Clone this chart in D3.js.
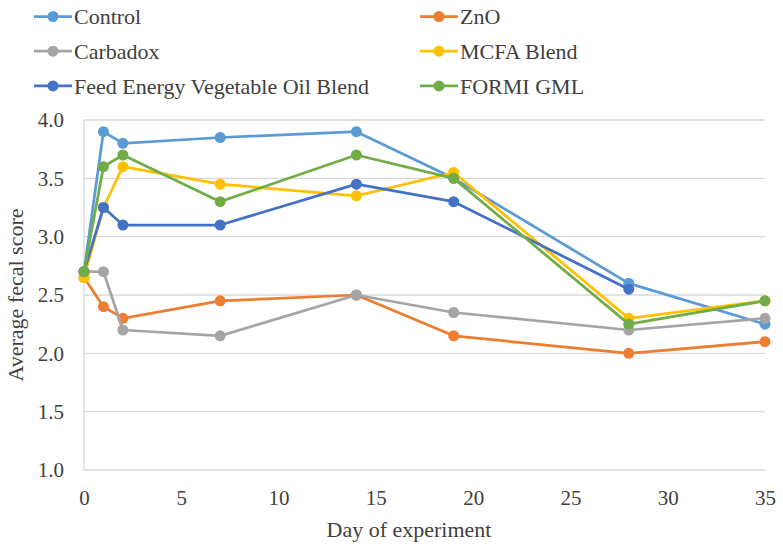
<!DOCTYPE html>
<html>
<head>
<meta charset="utf-8">
<script src="https://cdn.jsdelivr.net/npm/d3@7"></script>
<style>
  body { margin: 0; background: #fff; }
  svg text { font-family: "Liberation Serif", "Times New Roman", serif; }
</style>
</head>
<body>
<svg id="chart" width="783" height="546"></svg>
<script>
const days = [0, 1, 2, 7, 14, 19, 28, 35]
const xTicks = [0, 5, 10, 15, 20, 25, 30, 35]
const yTicks = [1.0, 1.5, 2.0, 2.5, 3.0, 3.5, 4.0]

const seriesNames = ['Control', 'ZnO', 'Carbadox', 'MCFA Blend', 'Feed Energy Vegetable Oil Blend', 'FORMI GML']
const seriesColors = ['#5B9BD5', '#ED7D31', '#A5A5A5', '#FFC000', '#4472C4', '#70AD47']

const control = [2.7, 3.9, 3.8, 3.85, 3.9, 3.5, 2.6, 2.25]
const zno = [2.65, 2.4, 2.3, 2.45, 2.5, 2.15, 2.0, 2.1]
const carbadox = [2.7, 2.7, 2.2, 2.15, 2.5, 2.35, 2.2, 2.3]
const mcfa = [2.65, 3.25, 3.6, 3.45, 3.35, 3.55, 2.3, 2.45]
const fevob = [2.7, 3.25, 3.1, 3.1, 3.45, 3.3, 2.55, null]
const formi = [2.7, 3.6, 3.7, 3.3, 3.7, 3.5, 2.25, 2.45]

const seriesValues = [control, zno, carbadox, mcfa, fevob, formi]

const svg = d3.select('#chart')

const x = d3.scaleLinear().domain([0, 35]).range([84, 765])
const y = d3.scaleLinear().domain([1, 4]).range([470, 120])

const textColor = '#404040'

// gridlines
svg.append('g')
    .selectAll('line')
    .data(yTicks)
    .join('line')
    .attr('x1', x(0))
    .attr('x2', x(35))
    .attr('y1', d => y(d))
    .attr('y2', d => y(d))
    .attr('stroke', '#d9d9d9')
    .attr('stroke-width', 1.3)

// left axis line
svg.append('line')
    .attr('x1', x(0)).attr('x2', x(0))
    .attr('y1', y(4)).attr('y2', y(1))
    .attr('stroke', '#d9d9d9')
    .attr('stroke-width', 1.3)

const yAxis = d3.axisLeft(y).tickValues(yTicks).tickFormat(d3.format('.1f')).tickSize(0).tickPadding(20)
svg.append('g')
    .attr('transform', `translate(${x(0)},0)`)
    .call(yAxis)
    .call(g => g.select('.domain').remove())
    .selectAll('text')
    .style('font-family', '"Liberation Serif", serif')
    .style('font-size', '21px')
    .attr('fill', textColor)

const xAxis = d3.axisBottom(x).tickValues(xTicks).tickSize(0).tickPadding(20)
svg.append('g')
    .attr('transform', `translate(0,${y(1)})`)
    .call(xAxis)
    .call(g => g.select('.domain').remove())
    .selectAll('text')
    .style('font-family', '"Liberation Serif", serif')
    .style('font-size', '21px')
    .attr('fill', textColor)

// axis titles
svg.append('text')
    .attr('x', 409)
    .attr('y', 537)
    .attr('text-anchor', 'middle')
    .style('font-size', '22px')
    .attr('fill', textColor)
    .text('Day of experiment')

svg.append('text')
    .attr('transform', 'translate(23,295) rotate(-90)')
    .attr('text-anchor', 'middle')
    .style('font-size', '22px')
    .attr('fill', textColor)
    .text('Average fecal score')

// series
const line = d3.line()
    .defined(d => d.v != null)
    .x(d => x(d.day))
    .y(d => y(d.v))

seriesNames.forEach((name, i) => {
    const pts = days.map((day, j) => ({ day, v: seriesValues[i][j] }))
    const g = svg.append('g')
    g.append('path')
        .datum(pts)
        .attr('d', line)
        .attr('fill', 'none')
        .attr('stroke', seriesColors[i])
        .attr('stroke-width', 2.75)
        .attr('stroke-linejoin', 'round')
    g.selectAll('circle')
        .data(pts.filter(d => d.v != null))
        .join('circle')
        .attr('cx', d => x(d.day))
        .attr('cy', d => y(d.v))
        .attr('r', 5.5)
        .attr('fill', seriesColors[i])
})

// legend
const legend = svg.append('g')
seriesNames.forEach((name, i) => {
    const col = i % 2
    const row = Math.floor(i / 2)
    const lx = col === 0 ? 34 : 420
    const ly = 16.5 + row * 34.7
    legend.append('line')
        .attr('x1', lx).attr('x2', lx + 38)
        .attr('y1', ly).attr('y2', ly)
        .attr('stroke', seriesColors[i])
        .attr('stroke-width', 2.75)
    legend.append('circle')
        .attr('cx', lx + 19).attr('cy', ly)
        .attr('r', 5.5)
        .attr('fill', seriesColors[i])
    legend.append('text')
        .attr('x', lx + 40)
        .attr('y', ly)
        .attr('dy', '0.35em')
        .style('font-size', '22px')
        .attr('fill', textColor)
        .text(name)
})
</script>
</body>
</html>
